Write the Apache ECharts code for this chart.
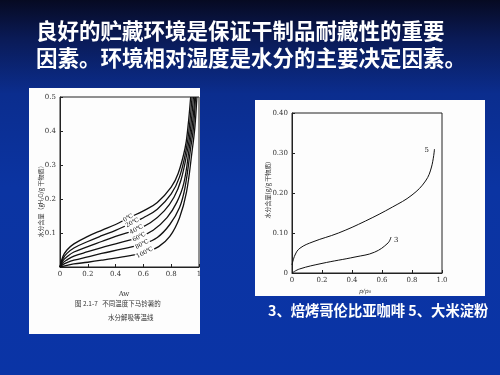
<!DOCTYPE html>
<html><head><meta charset="utf-8">
<script src="https://cdn.jsdelivr.net/npm/echarts@6/dist/echarts.min.js"></script>
<style>html,body{margin:0;padding:0;}#c{width:500px;height:375px;}</style>
</head><body><div id="c"></div>
<script>
// ---- data ----
const titleLines = ['良好的贮藏环境是保证干制品耐藏性的重要', '因素。环境相对湿度是水分的主要决定因素。'];
const caption = '3、焙烤哥伦比亚咖啡 5、大米淀粉';
const leftTicksX = [0, 0.2, 0.4, 0.6, 0.8, 1];
const leftTicksY = [0.1, 0.2, 0.3, 0.4, 0.5];
const rightTicksX = [0, 0.2, 0.4, 0.6, 0.8, 1.0];
const rightTicksY = [0, 0.10, 0.20, 0.30, 0.40];
const tempNames = ['0℃', '20℃', '40℃', '60℃', '80℃', '100℃'];
const labelIdx = [7, 7, 7, 7, 7, 6];
const t0 = [[0,0],[0.02,0.03],[0.05,0.05],[0.1,0.068],[0.2,0.09],[0.3,0.108],[0.4,0.125],[0.49,0.144],[0.6,0.165],[0.7,0.19],[0.8,0.235],[0.85,0.275],[0.9,0.35],[0.92,0.41],[0.94,0.5]];
const t20 = [[0,0],[0.02,0.024],[0.05,0.04],[0.1,0.056],[0.2,0.075],[0.3,0.092],[0.4,0.108],[0.52,0.13],[0.6,0.145],[0.7,0.17],[0.8,0.215],[0.86,0.265],[0.91,0.35],[0.93,0.41],[0.95,0.5]];
const t40 = [[0,0],[0.02,0.018],[0.05,0.03],[0.1,0.044],[0.2,0.06],[0.3,0.075],[0.4,0.09],[0.55,0.11],[0.65,0.13],[0.75,0.165],[0.82,0.205],[0.87,0.255],[0.92,0.35],[0.94,0.41],[0.96,0.5]];
const t60 = [[0,0],[0.02,0.012],[0.05,0.021],[0.1,0.032],[0.2,0.045],[0.3,0.057],[0.4,0.068],[0.57,0.088],[0.67,0.108],[0.77,0.145],[0.84,0.19],[0.89,0.245],[0.93,0.35],[0.95,0.41],[0.97,0.5]];
const t80 = [[0,0],[0.02,0.007],[0.05,0.013],[0.1,0.02],[0.2,0.03],[0.3,0.04],[0.45,0.053],[0.59,0.067],[0.7,0.087],[0.79,0.125],[0.86,0.175],[0.9,0.235],[0.94,0.35],[0.96,0.41],[0.975,0.5]];
const t100 = [[0,0],[0.05,0.005],[0.1,0.009],[0.2,0.014],[0.3,0.02],[0.45,0.03],[0.61,0.042],[0.71,0.06],[0.79,0.09],[0.86,0.145],[0.91,0.22],[0.95,0.34],[0.97,0.41],[0.985,0.5]];
const rice5 = [[0,0.02],[0.02,0.045],[0.053,0.062],[0.14,0.078],[0.31,0.10],[0.49,0.13],[0.67,0.165],[0.8,0.195],[0.89,0.23],[0.93,0.265],[0.95,0.31]];
const coffee3 = [[0,0],[0.05,0.01],[0.2,0.024],[0.42,0.04],[0.55,0.052],[0.64,0.075],[0.66,0.09]];
const rightCurveNames = ['5', '3'];

// ---- chart ----
const chart = echarts.init(document.getElementById('c'));
const FONT = '"Noto Sans CJK SC", "Noto Sans", sans-serif';
const axisCol = '#222';
const tempSets = [t0, t20, t40, t60, t80, t100];

function axisBase(fmt, fontSize) {
  return {
    type: 'value',
    axisLine: { show: true, lineStyle: { color: axisCol, width: 1 } },
    axisTick: { show: true, inside: true, length: 3, lineStyle: { color: axisCol } },
    splitLine: { show: false },
    axisLabel: { color: '#333', fontSize: fontSize, fontFamily: 'DejaVu Serif', formatter: fmt, margin: 4 }
  };
}

const leftX = Object.assign(axisBase(v => String(+(+v).toFixed(1)), 7), { gridIndex: 0, min: leftTicksX[0], max: leftTicksX[leftTicksX.length - 1], interval: 0.2 });
const leftY = Object.assign(axisBase(v => v === 0 ? '' : v.toFixed(1), 7), { gridIndex: 0, min: 0, max: leftTicksY[leftTicksY.length - 1], interval: 0.1 });
const rightX = Object.assign(axisBase(v => v === 0 ? '0' : v.toFixed(1), 7), { gridIndex: 1, min: rightTicksX[0], max: rightTicksX[rightTicksX.length - 1], interval: 0.2 });
const rightY = Object.assign(axisBase(v => v === 0 ? '0' : v.toFixed(2), 7), { gridIndex: 1, min: rightTicksY[0], max: rightTicksY[rightTicksY.length - 1], interval: 0.1 });

const series = tempSets.map((d, i) => ({
  type: 'line', xAxisIndex: 0, yAxisIndex: 0, smooth: 0.4,
  symbol: 'circle', symbolSize: 0, showSymbol: true, showAllSymbol: true,
  lineStyle: { color: '#111', width: 1.3 }, itemStyle: { color: '#111' },
  silent: true, animation: false,
  data: d.map((p, j) => j === labelIdx[i] ? {
    value: p,
    label: { show: true, formatter: tempNames[i], position: 'inside', rotate: 28, fontSize: 6, color: '#111',
      backgroundColor: '#fff', padding: [0, 1], fontFamily: 'DejaVu Serif' }
  } : p)
}));

[rice5, coffee3].forEach((d, i) => {
  series.push({
    type: 'line', xAxisIndex: 1, yAxisIndex: 1, smooth: 0.4,
    symbol: 'circle', symbolSize: 0, showSymbol: true, showAllSymbol: true,
    lineStyle: { color: '#111', width: 1 }, itemStyle: { color: '#111' },
    silent: true, animation: false,
    data: d.map((p, j) => j === d.length - 1 ? {
      value: p,
      label: { show: true, formatter: rightCurveNames[i], position: i === 0 ? [-10, -2] : [3, 0],
        fontSize: 7, color: '#222', fontFamily: 'DejaVu Serif' }
    } : p)
  });
});

const option = {
  animation: false,
  backgroundColor: 'transparent',
  grid: [
    { left: 60, top: 97, width: 139, height: 170, show: true, borderColor: axisCol, borderWidth: 1, containLabel: false },
    { left: 292, top: 113, width: 150, height: 160, show: true, borderColor: axisCol, borderWidth: 1, containLabel: false }
  ],
  xAxis: [leftX, rightX],
  yAxis: [leftY, rightY],
  series: series,
  graphic: [
    { type: 'rect', z: -100, shape: { x: 0, y: 0, width: 500, height: 375 },
      style: { fill: new echarts.graphic.LinearGradient(0, 0, 0, 1, [
        { offset: 0, color: '#060a22' }, { offset: 0.1, color: '#0a1a55' },
        { offset: 0.25, color: '#0b2d8e' }, { offset: 0.5, color: '#0b34a2' }, { offset: 1, color: '#0a34a6' }]) } },
    { type: 'rect', z: -50, shape: { x: 29, y: 88, width: 171, height: 246 }, style: { fill: '#fdfdfd' } },
    { type: 'rect', z: -50, shape: { x: 255, y: 100, width: 230, height: 196 }, style: { fill: '#fdfdfd' } },
    { type: 'text', z: 100, left: 36, top: 20, style: { text: titleLines[0], fill: '#fff', font: 'bold 21.5px ' + FONT } },
    { type: 'text', z: 100, left: 36, top: 47, style: { text: titleLines[1], fill: '#fff', font: 'bold 21.5px ' + FONT } },
    { type: 'text', z: 100, left: 268, top: 303, style: { text: caption, fill: '#fff', font: 'bold 14.3px ' + FONT } },
    // left chart texts
    { type: 'text', z: 100, x: 41, y: 200, rotation: Math.PI / 2, style: { text: '水分含量（gH₂O/g 干物质）', fill: '#333', font: '6px ' + FONT, align: 'center', verticalAlign: 'middle' } },
    { type: 'text', z: 100, x: 124, y: 291, style: { text: 'Aw', fill: '#333', font: '7px DejaVu Serif', align: 'center' } },
    { type: 'text', z: 100, x: 75, y: 300, style: { text: '图 2.1-7   不同温度下马铃薯的', fill: '#333', font: '6.5px ' + FONT } },
    { type: 'text', z: 100, x: 108, y: 314, style: { text: '水分解吸等温线', fill: '#333', font: '6.5px ' + FONT } },
    // right chart texts
    { type: 'text', z: 100, x: 268, y: 190, rotation: Math.PI / 2, style: { text: '水分含量(g/g 干物质)', fill: '#333', font: '6px ' + FONT, align: 'center', verticalAlign: 'middle' } },
    { type: 'text', z: 100, x: 365, y: 288, style: { text: 'p/p₀', fill: '#333', font: 'italic 6px DejaVu Serif', align: 'center' } }
  ]
};
chart.setOption(option);
</script></body></html>
